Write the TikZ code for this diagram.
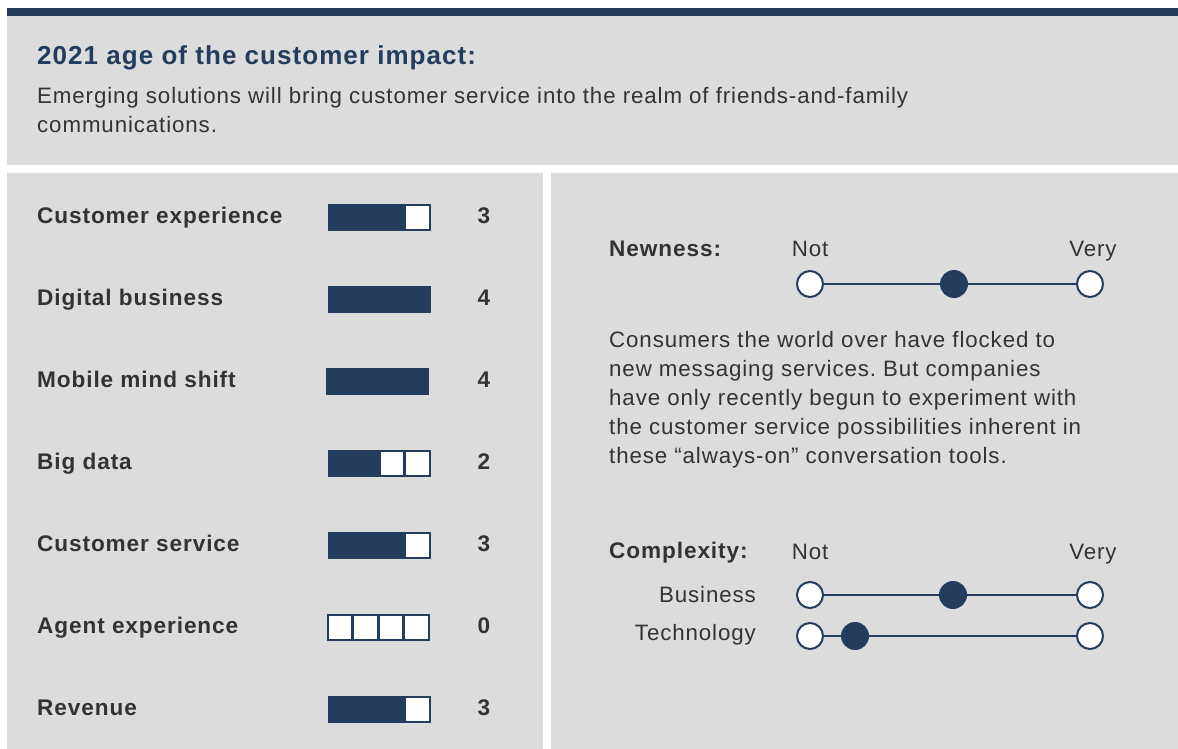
\documentclass[tikz,border=0pt]{standalone}
\usepackage{fontspec}
\setmainfont{Liberation Sans}[LetterSpace=4]
\frenchspacing
\definecolor{navy}{HTML}{243D5C}
\definecolor{panel}{HTML}{DCDCDC}
\definecolor{txt}{HTML}{333333}
\tikzset{
  panelbox/.style={fill=panel},
  rowlabel/.style={anchor=base west, inner sep=0pt, text=txt, font=\bfseries\fontsize{22.6}{27}\selectfont},
  score/.style={anchor=base, inner sep=0pt, text=txt, font=\bfseries\fontsize{22.6}{27}\selectfont},
  cell/.style={draw=navy, line width=2pt, minimum width=24.5pt, minimum height=24.5pt, inner sep=0pt, anchor=north west},
  bodytext/.style={inner sep=0pt, text=txt, font=\fontsize{22.3}{29}\selectfont},
  boldtext/.style={inner sep=0pt, text=txt, font=\bfseries\fontsize{22.6}{29}\selectfont},
  opendot/.style={circle, draw=navy, line width=2pt, fill=white, minimum size=26pt, inner sep=0pt},
  fulldot/.style={circle, fill=navy, minimum size=28pt, inner sep=0pt},
  track/.style={draw=navy, line width=1.8pt}
}
\begin{document}
\begin{tikzpicture}[x=1pt,y=-1pt]
\useasboundingbox (0,0) rectangle (1178,749);
\fill[white] (0,0) rectangle (1178,749);
\fill[navy] (7,8) rectangle (1178,16);
\fill[panelbox] (7,16) rectangle (1178,165);
\fill[panelbox] (7,173) rectangle (543,749);
\fill[panelbox] (551,173) rectangle (1178,749);

% header
\node[anchor=base west, inner sep=0pt, text=navy, font=\bfseries\fontsize{26}{30}\selectfont] (title) at (37,65) {2021 age of the customer impact:};
\node[bodytext, anchor=base west] (sub1) at (37,104) {Emerging solutions will bring customer service into the realm of friends-and-family};
\node[bodytext, anchor=base west] (sub2) at (37,133) {communications.};

% left panel rows
\foreach \lab/\sc/\bx [count=\i] in {Customer experience/3/327.5, Digital business/4/327.5, Mobile mind shift/4/325.5, Big data/2/327.5, Customer service/3/327.5, Agent experience/0/326.5, Revenue/3/327.5}{
  \pgfmathsetmacro{\yb}{223+82*(\i-1)}
  \pgfmathsetmacro{\yt}{204+82*(\i-1)}
  \node[rowlabel] (lab\i) at (37,\yb) {\lab};
  \node[score] (sc\i) at (484,\yb) {\sc};
  \foreach \k in {1,2,3,4}{
    \ifnum\k>\sc \def\cf{white}\else \def\cf{navy}\fi
    \node[cell, fill=\cf] (c\i-\k) at ({\bx+25.5*(\k-1)},\yt) {};
  }
}

% right panel: newness
\node[boldtext, anchor=base west] (newness) at (609,256) {Newness:};
\node[bodytext, anchor=base] (not1) at (810,256) {Not};
\node[bodytext, anchor=base] (very1) at (1093,256) {Very};
\node[opendot] (n1) at (810,284) {};
\node[opendot] (n3) at (1090,284) {};
\node[fulldot] (n2) at (954,284) {};
\draw[track] (n1) -- (n2);
\draw[track] (n2) -- (n3);

\node[bodytext, anchor=base west] (p1) at (609,347) {Consumers the world over have flocked to};
\node[bodytext, anchor=base west] (p2) at (609,376) {new messaging services. But companies};
\node[bodytext, anchor=base west] (p3) at (609,405) {have only recently begun to experiment with};
\node[bodytext, anchor=base west] (p4) at (609,434) {the customer service possibilities inherent in};
\node[bodytext, anchor=base west] (p5) at (609,463) {these “always-on” conversation tools.};

% complexity
\node[boldtext, anchor=base west] (complexity) at (609,558) {Complexity:};
\node[bodytext, anchor=base] (not2) at (810,559) {Not};
\node[bodytext, anchor=base] (very2) at (1093,559) {Very};
\node[bodytext, anchor=base east] (bus) at (756,602) {Business};
\node[bodytext, anchor=base east] (tech) at (756,640) {Technology};
\node[opendot] (b1) at (810,595) {};
\node[opendot] (b3) at (1090,595) {};
\node[fulldot] (b2) at (953,595) {};
\draw[track] (b1) -- (b2);
\draw[track] (b2) -- (b3);
\node[opendot] (t1) at (810,636) {};
\node[opendot] (t3) at (1090,636) {};
\node[fulldot] (t2) at (855,636) {};
\draw[track] (t1) -- (t2);
\draw[track] (t2) -- (t3);
\end{tikzpicture}
\end{document}
